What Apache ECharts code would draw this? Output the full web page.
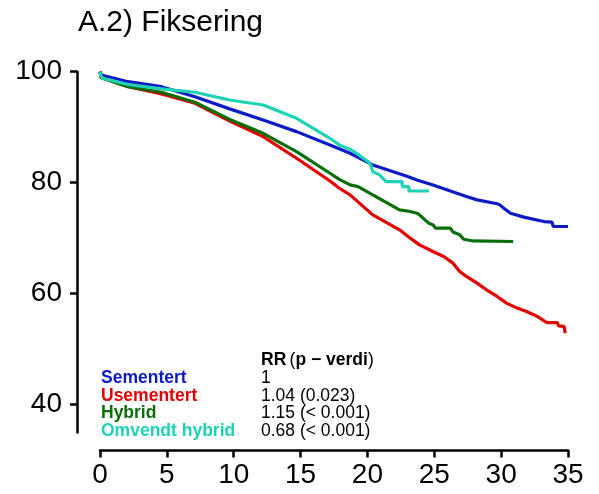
<!DOCTYPE html>
<html>
<head>
<meta charset="utf-8">
<script src="https://cdn.jsdelivr.net/npm/echarts@6/dist/echarts.min.js"></script>
<style>
  html, body { margin: 0; padding: 0; background: #fff; }
  #chart { width: 599px; height: 494px; }
</style>
</head>
<body>
<div id="chart"></div>
<script>
// Kaplan–Meier style implant survival (%) by years since surgery
const sementertTid = [0, 0.1, 2.1, 4.6, 7.1, 9.7, 12.2, 14.7, 17.2, 18.7, 20.4, 22.9, 23.7, 24.9, 27.4, 28.2, 29.7, 29.9, 30.2, 30.7, 31.7, 33.2, 33.8, 33.9, 35.0];
const sementertPst = [100, 99.4, 98.2, 97.3, 95.5, 93.3, 91.3, 89.2, 86.8, 85.3, 83.2, 81.2, 80.5, 79.6, 77.5, 76.9, 76.2, 76.0, 75.4, 74.5, 73.8, 73.0, 72.9, 72.1, 72.1];

const usementertTid = [0, 0.1, 2.1, 4.6, 7.1, 9.7, 12.2, 14.7, 17.2, 17.9, 18.7, 20.4, 22.4, 23.2, 23.9, 24.9, 25.7, 26.4, 26.9, 27.4, 28.2, 28.9, 29.7, 30.4, 31.2, 31.9, 32.7, 33.4, 34.2, 34.3, 34.7, 34.8];
const usementertPst = [100, 98.9, 97.3, 96.0, 94.3, 91.1, 88.3, 84.4, 80.3, 79.0, 77.8, 74.2, 71.5, 70.0, 68.8, 67.6, 66.7, 65.5, 64.0, 63.1, 61.9, 60.7, 59.5, 58.3, 57.4, 56.8, 55.9, 54.8, 54.8, 54.2, 54.1, 52.9];

const hybridTid = [0, 0.1, 2.1, 4.6, 7.1, 9.7, 12.2, 14.7, 17.2, 17.9, 18.7, 19.3, 20.4, 22.4, 23.2, 23.7, 23.9, 24.3, 24.6, 24.9, 25.1, 26.2, 26.4, 26.9, 27.2, 27.9, 30.9];
const hybridPst = [100, 98.9, 97.3, 96.3, 94.5, 91.4, 88.9, 85.6, 81.7, 80.6, 79.6, 79.3, 77.8, 75.1, 74.8, 74.5, 74.2, 73.3, 72.7, 72.4, 71.8, 71.8, 71.1, 70.6, 69.8, 69.5, 69.4];

const omvendtTid = [0, 0.05, 0.2, 2.1, 4.6, 7.1, 9.7, 12.2, 14.7, 17.2, 17.9, 18.7, 19.3, 20.2, 20.4, 20.9, 21.4, 22.6, 22.6, 23.1, 23.1, 24.6];
const omvendtPst = [100, 99.3, 98.8, 97.7, 96.9, 96.3, 94.9, 94.0, 91.6, 88.0, 86.8, 86.0, 85.1, 83.5, 82.0, 81.4, 80.2, 80.2, 79.3, 79.3, 78.5, 78.5];

const gruppeNavn = ['Sementert', 'Usementert', 'Hybrid', 'Omvendt hybrid'];
const rrTekst = ['1', '1.04 (0.023)', '1.15 (< 0.001)', '0.68 (< 0.001)'];
const farger = ['#0B1BC6', '#E50000', '#0A6E0A', '#1ED2B4'];

const xTicks = [0, 5, 10, 15, 20, 25, 30, 35];
const yTicks = [40, 60, 80, 100];

const zip = (t, v) => t.map((x, i) => [x, v[i]]);
const kurver = [
  zip(sementertTid, sementertPst),
  zip(usementertTid, usementertPst),
  zip(hybridTid, hybridPst),
  zip(omvendtTid, omvendtPst)
];

const FONT = '"Liberation Sans", Arial, Helvetica, sans-serif';

const chart = echarts.init(document.getElementById('chart'), null, { renderer: 'canvas' });

// legend block: group names (coloured) and relative risk column
const legendY = [377.8, 395.8, 413, 430.8];
const graphics = [
  {
    type: 'text', x: 78, y: 23,
    style: { text: 'A.2) Fiksering', fill: '#000', font: '30px ' + FONT, align: 'left', verticalAlign: 'middle' }
  },
  {
    type: 'text', x: 261, y: 360.5,
    style: {
      text: '{b|RR} {n|(}{b|p − verdi}{n|)}',
      align: 'left', verticalAlign: 'middle',
      rich: {
        b: { fontFamily: FONT, fontSize: 17.5, fontWeight: 'bold', fill: '#000' },
        n: { fontFamily: FONT, fontSize: 17.5, fontWeight: 'normal', fill: '#000' }
      }
    }
  }
];
gruppeNavn.forEach((navn, i) => {
  graphics.push({
    type: 'text', x: 101, y: legendY[i],
    style: { text: navn, fill: farger[i], font: 'bold 17.5px ' + FONT, align: 'left', verticalAlign: 'middle' }
  });
  graphics.push({
    type: 'text', x: 261, y: legendY[i],
    style: { text: rrTekst[i], fill: '#000', font: '17.5px ' + FONT, align: 'left', verticalAlign: 'middle' }
  });
});

chart.setOption({
  animation: false,
  backgroundColor: '#fff',
  grid: { left: 100, right: 31, top: 71.7, bottom: 61.6, containLabel: false },
  xAxis: {
    type: 'value', min: 0, max: 35, interval: 5,
    offset: 18,
    splitLine: { show: false },
    axisLine: { show: true, onZero: false, lineStyle: { color: '#000', width: 2.5 } },
    axisTick: { show: true, length: 7, lineStyle: { color: '#000', width: 2.5 }, customValues: xTicks },
    axisLabel: { color: '#000', fontSize: 28, fontFamily: FONT, margin: 11, customValues: xTicks }
  },
  yAxis: {
    type: 'value', min: 35, max: 100,
    offset: 23,
    splitLine: { show: false },
    axisLine: { show: true, onZero: false, lineStyle: { color: '#000', width: 2.5 } },
    axisTick: { show: true, length: 7, lineStyle: { color: '#000', width: 2.5 }, customValues: yTicks },
    axisLabel: { color: '#000', fontSize: 28, fontFamily: FONT, margin: 15, customValues: yTicks }
  },
  graphic: graphics,
  series: kurver.map((d, i) => ({
    name: gruppeNavn[i],
    type: 'line',
    data: d,
    showSymbol: false,
    symbol: 'none',
    lineStyle: { color: farger[i], width: 3.2 },
    itemStyle: { color: farger[i] },
    z: 2 + i
  }))
});
</script>
</body>
</html>
